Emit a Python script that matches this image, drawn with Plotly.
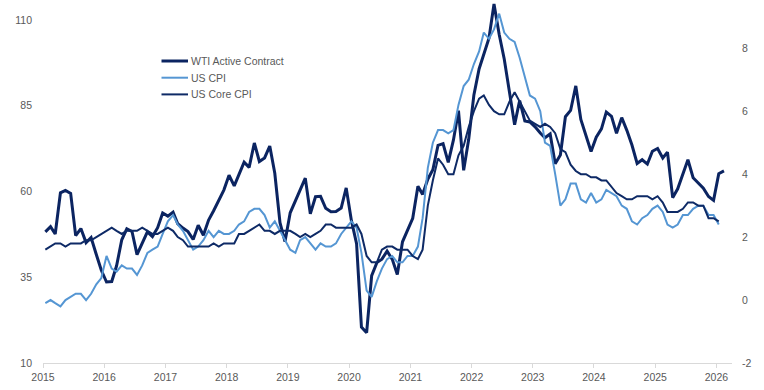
import pandas as pd
import plotly.graph_objects as go

# ---- data (monthly) ----
series_start = "2015-01-01"

wti = [
    48.24, 49.76, 47.60, 59.63, 60.30, 59.47, 47.12, 49.20, 45.09, 46.59, 41.65, 37.04,   # 2015
    33.62, 33.75, 38.34, 45.92, 49.10, 48.33, 41.60, 44.70, 48.24, 46.86, 49.44, 53.72,   # 2016
    52.81, 54.01, 50.60, 49.33, 48.32, 46.04, 50.17, 47.23, 51.67, 54.38, 57.40, 60.42,   # 2017
    64.73, 61.64, 64.94, 68.57, 67.04, 74.15, 68.76, 69.80, 73.25, 65.31, 50.93, 45.41,   # 2018
    53.79, 57.22, 60.14, 63.91, 53.50, 58.47, 58.58, 55.10, 54.07, 54.18, 55.17, 61.06,   # 2019
    51.56, 44.76, 20.48, 18.84, 35.49, 39.27, 40.27, 42.61, 40.22, 35.79, 45.34, 48.52,   # 2020
    52.20, 61.50, 59.16, 63.58, 66.32, 73.47, 73.95, 68.50, 75.03, 83.57, 66.18, 75.21,   # 2021
    88.15, 95.72, 100.28, 104.69, 114.67, 105.76, 98.62, 89.55, 79.49, 86.53, 80.55, 80.26,  # 2022
    78.87, 77.05, 75.67, 76.78, 68.09, 70.64, 81.80, 83.63, 90.79, 81.02, 75.96, 71.65,   # 2023
    75.85, 78.26, 83.17, 81.93, 76.99, 81.54, 77.91, 73.55, 68.17, 69.26, 68.00, 71.72,   # 2024
    72.53, 69.76, 71.48, 58.21, 60.79, 65.11, 69.26, 64.01, 62.37, 60.98, 58.55, 57.42,   # 2025
    65.21, 66.0,                                                                          # 2026
]

us_cpi = [
    -0.1, 0.0, -0.1, -0.2, 0.0, 0.1, 0.2, 0.2, 0.0, 0.2, 0.5, 0.7,    # 2015
    1.4, 1.0, 0.9, 1.1, 1.0, 1.0, 0.8, 1.1, 1.5, 1.6, 1.7, 2.1,       # 2016
    2.5, 2.7, 2.4, 2.2, 1.9, 1.6, 1.7, 1.9, 2.2, 2.0, 2.2, 2.1,       # 2017
    2.1, 2.2, 2.4, 2.5, 2.8, 2.9, 2.9, 2.7, 2.3, 2.5, 2.2, 1.9,       # 2018
    1.6, 1.5, 1.9, 2.0, 1.8, 1.6, 1.8, 1.7, 1.7, 1.8, 2.1, 2.3,       # 2019
    2.5, 2.3, 1.5, 0.3, 0.1, 0.6, 1.0, 1.3, 1.4, 1.2, 1.2, 1.4,       # 2020
    1.4, 1.7, 2.6, 4.2, 5.0, 5.4, 5.4, 5.3, 5.4, 6.2, 6.8, 7.0,       # 2021
    7.5, 7.9, 8.5, 8.3, 8.6, 9.1, 8.5, 8.3, 8.2, 7.7, 7.1, 6.5,       # 2022
    6.4, 6.0, 5.0, 4.9, 4.0, 3.0, 3.2, 3.7, 3.7, 3.2, 3.1, 3.4,       # 2023
    3.1, 3.2, 3.5, 3.4, 3.3, 3.0, 2.9, 2.5, 2.4, 2.6, 2.7, 2.9,       # 2024
    3.0, 2.8, 2.4, 2.3, 2.4, 2.7, 2.7, 2.9, 3.0, 3.0, 2.7, 2.7,       # 2025
    2.4,                                                              # 2026
]

us_core_cpi = [
    1.6, 1.7, 1.8, 1.8, 1.7, 1.8, 1.8, 1.8, 1.9, 1.9, 2.0, 2.1,       # 2015
    2.2, 2.3, 2.2, 2.1, 2.2, 2.2, 2.2, 2.3, 2.2, 2.1, 2.1, 2.2,       # 2016
    2.3, 2.2, 2.0, 1.9, 1.7, 1.7, 1.7, 1.7, 1.7, 1.8, 1.7, 1.8,       # 2017
    1.8, 1.8, 2.1, 2.1, 2.2, 2.3, 2.4, 2.2, 2.2, 2.1, 2.2, 2.2,       # 2018
    2.2, 2.1, 2.0, 2.1, 2.0, 2.1, 2.2, 2.4, 2.4, 2.3, 2.3, 2.3,       # 2019
    2.3, 2.4, 2.1, 1.4, 1.2, 1.2, 1.6, 1.7, 1.7, 1.6, 1.6, 1.6,       # 2020
    1.4, 1.3, 1.6, 3.0, 3.8, 4.5, 4.3, 4.0, 4.0, 4.6, 4.9, 5.5,       # 2021
    6.0, 6.4, 6.5, 6.2, 6.0, 5.9, 5.9, 6.3, 6.6, 6.3, 6.0, 5.7,       # 2022
    5.6, 5.5, 5.6, 5.5, 5.3, 4.8, 4.7, 4.3, 4.1, 4.0, 4.0, 3.9,       # 2023
    3.9, 3.8, 3.8, 3.6, 3.4, 3.3, 3.2, 3.2, 3.3, 3.3, 3.3, 3.2,       # 2024
    3.3, 3.1, 2.8, 2.8, 2.8, 2.9, 3.1, 3.1, 3.0, 3.0, 2.6, 2.6,       # 2025
    2.5,                                                              # 2026
]

series_names = ["WTI Active Contract", "US CPI", "US Core CPI"]
year_labels = [str(y) for y in range(2015, 2027)]
left_ticks = [10, 35, 60, 85, 110]
right_ticks = [-2, 0, 2, 4, 6, 8]

def month_dates(n):
    return pd.date_range(series_start, periods=n, freq="MS") + pd.Timedelta(days=14)

year_ticks = [f"{y}-01-01" for y in year_labels]

FONT = "Liberation Sans, Arial, sans-serif"
GRAY = "#595959"
colors = ["#0b2461", "#5596d3", "#0e2a66"]
widths = [3, 2, 2]

fig = go.Figure()
fig.add_trace(go.Scatter(x=month_dates(len(wti)), y=wti, name=series_names[0], mode="lines",
                         line=dict(color=colors[0], width=widths[0]), yaxis="y"))
fig.add_trace(go.Scatter(x=month_dates(len(us_cpi)), y=us_cpi, name=series_names[1], mode="lines",
                         line=dict(color=colors[1], width=widths[1]), yaxis="y2"))
fig.add_trace(go.Scatter(x=month_dates(len(us_core_cpi)), y=us_core_cpi, name=series_names[2],
                         mode="lines", line=dict(color=colors[2], width=widths[2]), yaxis="y2"))

# ---- custom legend (compact row spacing) ----
L, R, T, B = 43, 32, 2, 27
W, H = 764, 390
pw, ph = W - L - R, H - T - B

def px_x(p):
    return (p - L) / pw

def px_y(p):
    return (H - B - p) / ph

shapes, annotations = [], []
for i, (name, c, w) in enumerate(zip(series_names, colors, widths)):
    yy = 61 + i * 16.7
    shapes.append(dict(type="line", xref="paper", yref="paper",
                       x0=px_x(161.5), x1=px_x(188), y0=px_y(yy), y1=px_y(yy),
                       line=dict(color=c, width=w)))
    annotations.append(dict(xref="paper", yref="paper", x=px_x(189), y=px_y(yy),
                            xanchor="left", yanchor="middle", showarrow=False,
                            text=name, font=dict(family=FONT, size=10.5, color=GRAY)))

fig.update_layout(
    width=W, height=H,
    margin=dict(l=L, r=R, t=T, b=B),
    paper_bgcolor="white", plot_bgcolor="white",
    font=dict(family=FONT, size=10.5, color=GRAY),
    showlegend=False,
    shapes=shapes, annotations=annotations,
    xaxis=dict(type="date", range=["2015-01-01", "2026-04-04"],
               tickvals=year_ticks, ticktext=year_labels,
               showgrid=False, zeroline=False,
               showline=True, linecolor="#d9d9d9", linewidth=1,
               ticks="outside", ticklen=4, tickcolor="#d9d9d9",
               ticklabelstandoff=0,
               tickfont=dict(size=10.5, color=GRAY)),
    yaxis=dict(range=[10, 115.25], tickvals=left_ticks,
               ticktext=[str(v) for v in left_ticks], automargin=False,
               showgrid=False, zeroline=False, showline=False, ticks="", ticklen=0,
               ticklabelstandoff=10, tickfont=dict(size=10.5, color=GRAY)),
    yaxis2=dict(range=[-2, 9.47], tickvals=right_ticks,
                ticktext=[str(v) for v in right_ticks],
                overlaying="y", side="right", automargin=False,
                showgrid=False, zeroline=False, showline=False, ticks="", ticklen=0,
                ticklabelstandoff=9, tickfont=dict(size=10.5, color=GRAY)),
)

fig.write_html("out.html", config={"displayModeBar": False},
               post_script="document.body.style.margin='0px';")
